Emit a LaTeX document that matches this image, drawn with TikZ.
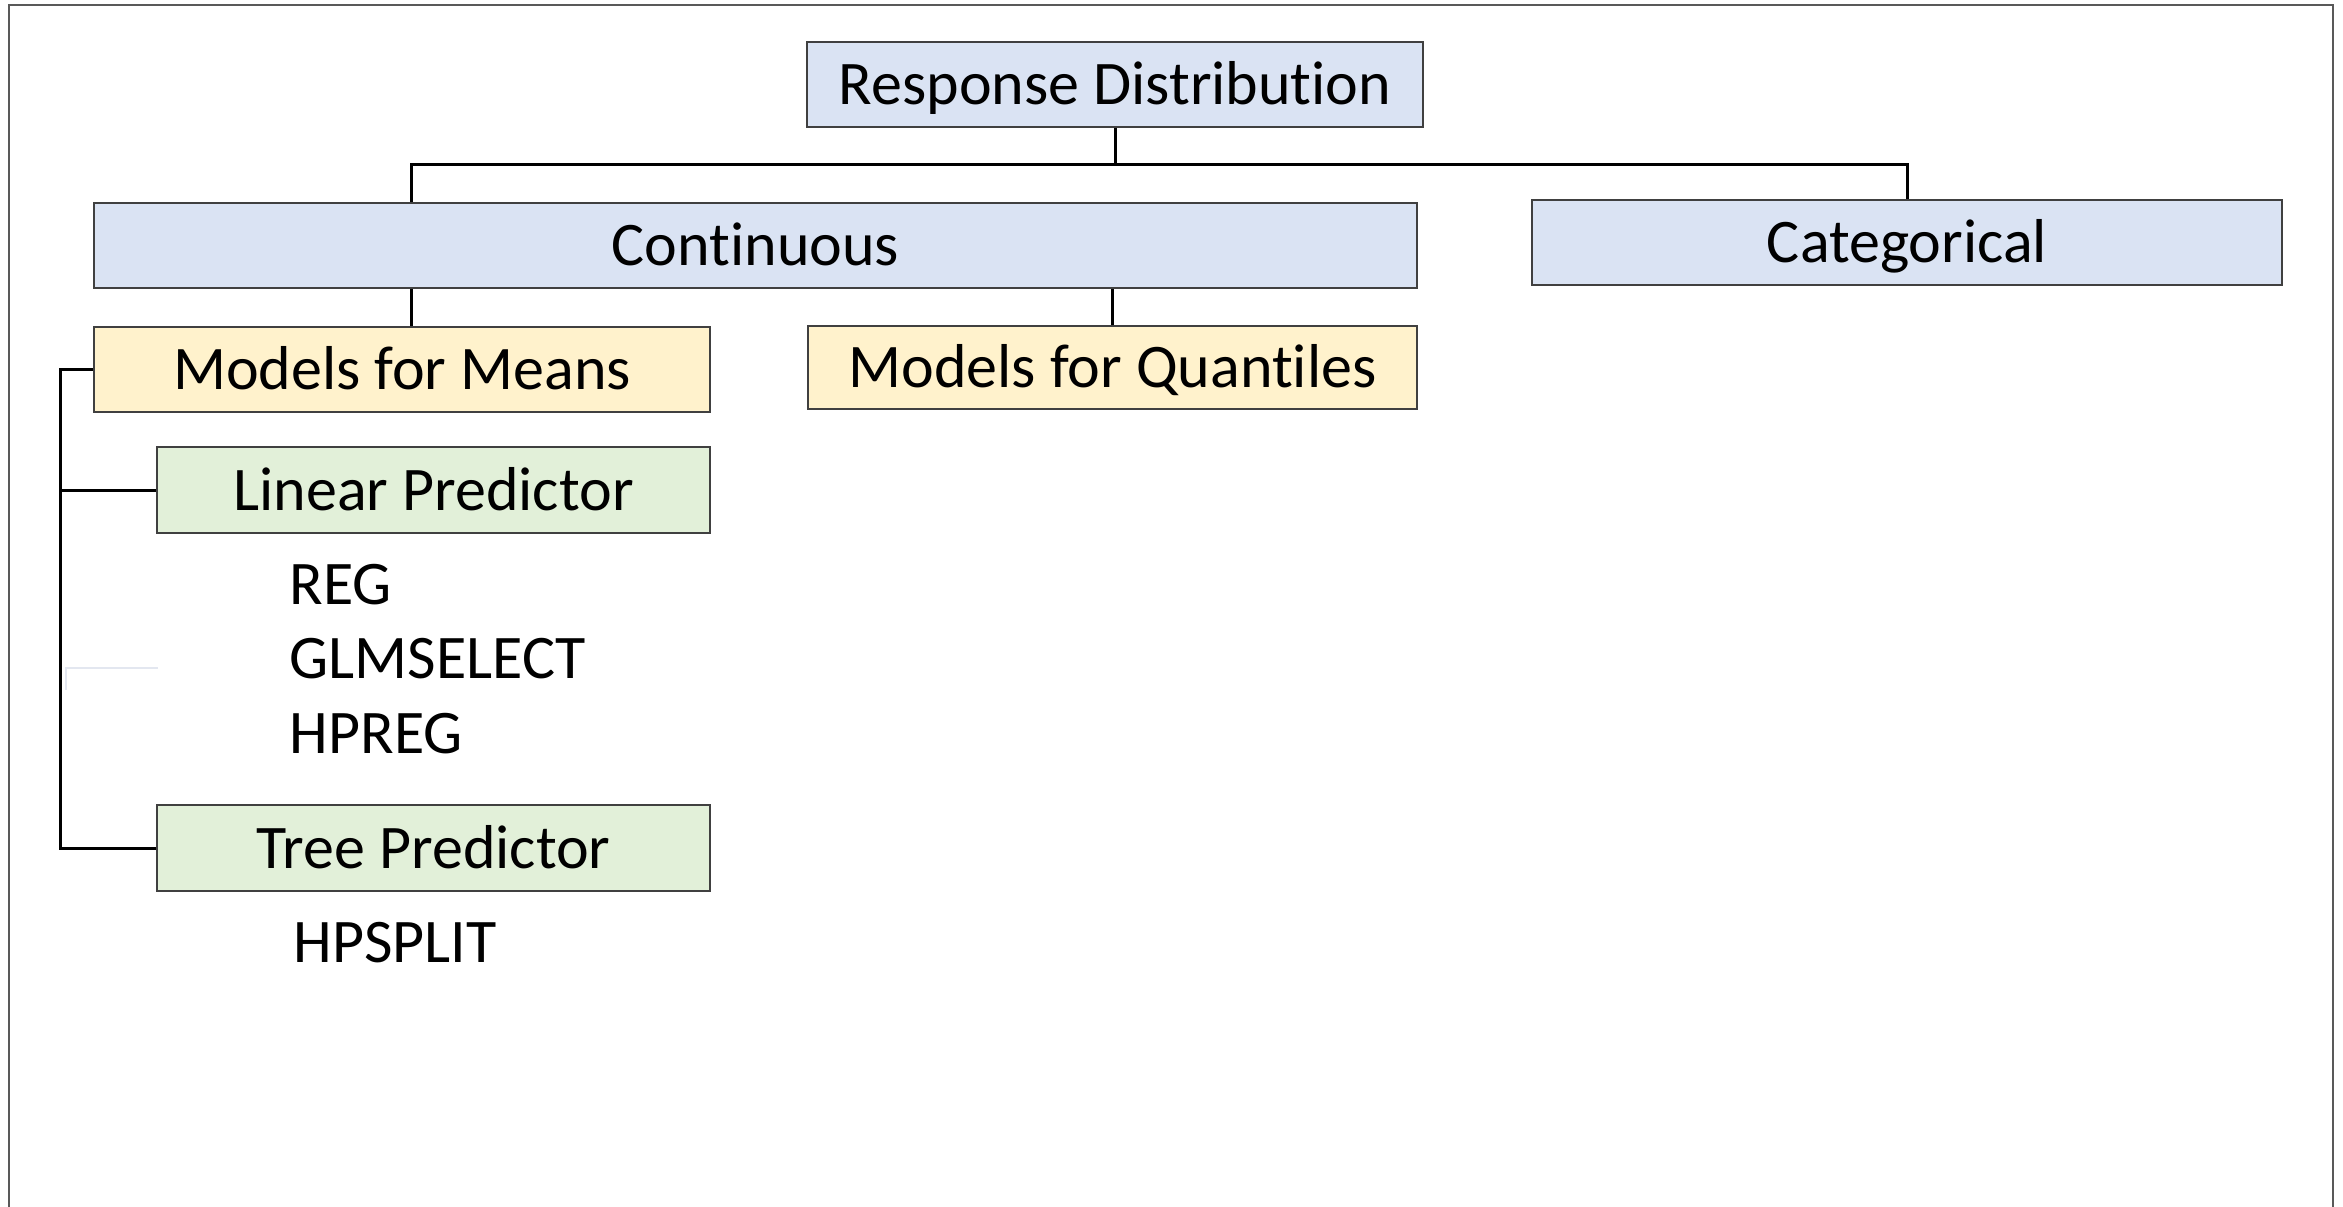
\documentclass[tikz,border=0pt]{standalone}
\usepackage{fontspec}
\setmainfont{Carlito}[Ligatures={NoCommon,NoContextual,NoRequired}]
\definecolor{catblue}{HTML}{DAE3F3}
\definecolor{meanyellow}{HTML}{FFF2CC}
\definecolor{predgreen}{HTML}{E2F0D9}
\definecolor{boxline}{HTML}{404040}
\definecolor{faintline}{HTML}{E3E7F0}
% keep "t" and "i" as separate glyphs
\newcommand{\tsep}{t\kern0pt }
\begin{document}
\begin{tikzpicture}[x=0.3pt,y=-0.3pt,
  every node/.style={font=\fontsize{18.6}{22}\selectfont, text height=12pt, text depth=0pt},
  box/.style={draw=boxline, line width=0.6pt, inner sep=0pt, anchor=center},
  bluebox/.style={box, fill=catblue},
  yellowbox/.style={box, fill=meanyellow},
  greenbox/.style={box, fill=predgreen},
  proc/.style={anchor=west, inner sep=0pt},
  conn/.style={draw=black, line width=0.9pt, line join=miter},
  frameline/.style={draw=black!65, line width=0.7pt}]
\useasboundingbox (0,0) rectangle (2343,1207);

% outer frame (open at the bottom)
\draw[frameline] (9,1207) -- (9,5) -- (2333,5) -- (2333,1207);

% boxes
\node[bluebox, minimum width=184.8pt, minimum height=25.5pt] (RD) at (1115,84.5) {Response Distribu\tsep ion};
\node[bluebox, minimum width=396.9pt, minimum height=25.5pt] (Cont) at (755.5,245.5) {Con\tsep inuous};
\node[bluebox, minimum width=225pt, minimum height=25.5pt] (Cat) at (1907,242.5) {Categorical};
\node[yellowbox, minimum width=184.8pt, minimum height=25.5pt] (MfM) at (402,369.5) {Models for Means};
\node[yellowbox, minimum width=182.7pt, minimum height=24.9pt] (MfQ) at (1112.5,367.5) {Models for Quan\tsep iles};
\node[greenbox, minimum width=165.9pt, minimum height=25.8pt] (LP) at (433.5,490) {Linear Predictor};
\node[greenbox, minimum width=165.9pt, minimum height=25.8pt] (TP) at (433.5,848) {Tree Predictor};

% procedures
\node[proc] (reg) at (289,584) {REG};
\node[proc] (glm) at (289,658) {GLMSELECT};
\node[proc] (hpreg) at (289,733) {HPREG};
\node[proc] (hpsplit) at (293,942) {HPSPLIT};

% top-level bus
\coordinate (busL) at (411,165);
\coordinate (busM) at (1115,165);
\coordinate (busR) at (1907,165);
\draw[conn] (RD.south) -- (busM);
\draw[conn] (Cont.north -| busL) -- (busL) -- (busR) -- (Cat.north);

% continuous branches
\draw[conn] (Cont.south -| busL) -- (MfM.north -| busL);
\draw[conn] (MfQ.north |- Cont.south) -- (MfQ.north);

% predictor bus on the left
\coordinate (lb) at (60,369.5);
\draw[conn] (MfM.west) -- (lb) -- (lb |- TP.west) -- (TP.west);
\draw[conn] (lb |- LP.west) -- (LP.west);

% faint stray stroke
\draw[faintline, line width=0.6pt] (158,668) -- (66,668) -- (66,690);
\end{tikzpicture}
\end{document}
